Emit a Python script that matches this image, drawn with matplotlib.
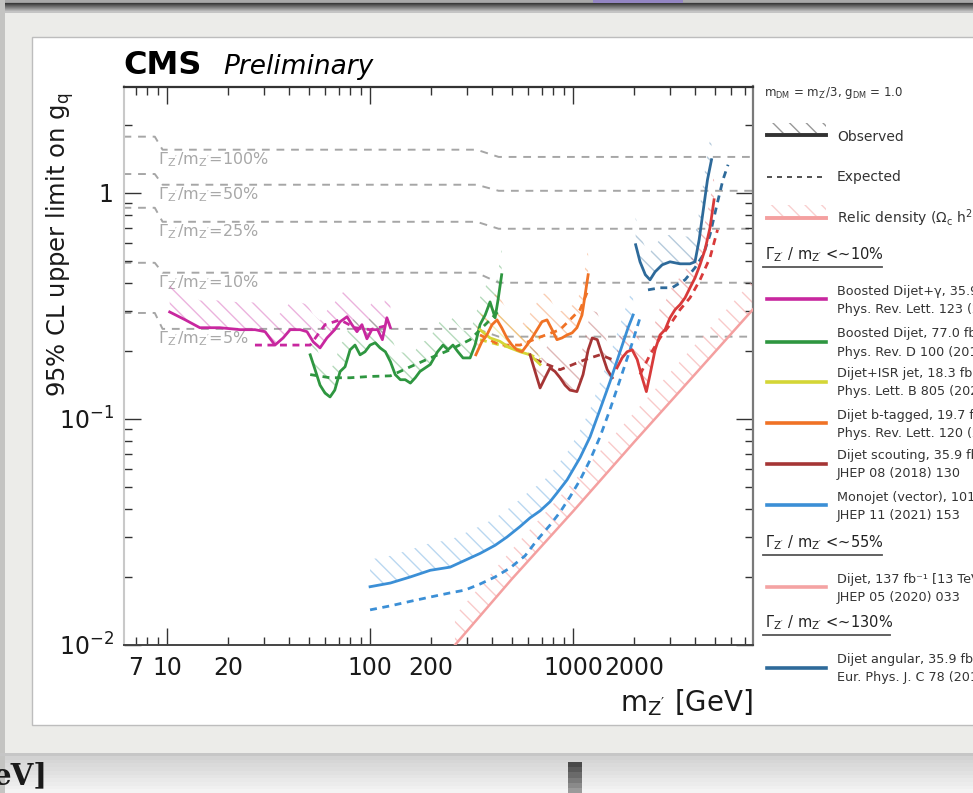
import numpy as np
import matplotlib
matplotlib.use("Agg")
import matplotlib.pyplot as plt
from matplotlib.patches import Rectangle
from matplotlib.lines import Line2D
from matplotlib.colors import to_rgba
from matplotlib.ticker import FixedLocator, FuncFormatter, LogLocator, NullFormatter

plt.rcParams["font.family"] = ["DejaVu Sans"]
plt.rcParams["mathtext.fontset"] = "dejavusans"
plt.rcParams["mathtext.default"] = "regular"
plt.rcParams["hatch.linewidth"] = 1.0

# ---------------- data: mediator mass [GeV] and coupling limits ----------------
# constant width / mass contours
width_mass = [6.1, 8.7, 9.5, 335, 430, 7700]
width_levels = ["100%", "50%", "25%", "10%", "5%"]
width_g = {
    "100%": [1.77, 1.77, 1.55, 1.55, 1.44, 1.44],
    "50%": [1.21, 1.21, 1.085, 1.085, 1.02, 1.02],
    "25%": [0.858, 0.858, 0.744, 0.744, 0.693, 0.693],
    "10%": [0.490, 0.490, 0.443, 0.443, 0.400, 0.400],
    "5%": [0.294, 0.294, 0.250, 0.250, 0.231, 0.231],
}

# Boosted dijet + photon
bdg_mass = [10.3, 12.3, 14.5, 18.2, 22.9, 27.1, 30.4, 34.0, 37.3, 40.4, 45.2, 48.9, 52.5, 56.7,
            61.3, 67.0, 71.2, 77.0, 81.4, 86.2, 91.2, 96.5, 102, 109, 115, 121, 126]
bdg_obs = [0.297, 0.274, 0.253, 0.253, 0.248, 0.248, 0.243, 0.212, 0.228, 0.248, 0.248, 0.243, 0.219,
           0.206, 0.228, 0.248, 0.269, 0.283, 0.261, 0.243, 0.261, 0.226, 0.248, 0.248, 0.224, 0.280, 0.253]
bdg_exp_mass = [27.1, 34.0, 45.2, 50.7, 60.0, 71.2, 84.3, 100, 126]
bdg_exp = [0.212, 0.212, 0.212, 0.212, 0.261, 0.274, 0.253, 0.248, 0.261]

# Boosted dijet
bd_mass = [50.7, 53.6, 56.7, 60.0, 63.5, 67.0, 71.2, 75.3, 79.7, 84.3, 89.3, 94.4, 100, 106, 112,
           119, 126, 133, 141, 149, 158, 167, 176, 198, 215, 229, 242, 256, 271, 287, 311, 329,
           348, 369, 390, 413, 427, 445]
bd_obs = [0.192, 0.165, 0.141, 0.130, 0.125, 0.134, 0.162, 0.170, 0.202, 0.212, 0.192, 0.198, 0.212,
          0.217, 0.206, 0.198, 0.179, 0.157, 0.149, 0.149, 0.144, 0.152, 0.162, 0.174, 0.198, 0.212,
          0.202, 0.212, 0.198, 0.186, 0.186, 0.212, 0.261, 0.288, 0.329, 0.280, 0.336, 0.434]
bd_exp_mass = [50.7, 63.5, 79.7, 100, 126, 158, 198, 248, 311, 390, 437]
bd_exp = [0.157, 0.152, 0.152, 0.154, 0.155, 0.170, 0.186, 0.202, 0.224, 0.274, 0.304]

# Dijet + ISR jet
isr_mass = [348, 390, 437, 489, 548, 614, 688]
isr_obs = [0.248, 0.228, 0.220, 0.206, 0.198, 0.192, 0.174]
isr_exp_mass = [348, 437, 548, 688]
isr_exp = [0.224, 0.212, 0.202, 0.183]

# Dijet b-tagged
btag_mass = [332, 355, 376, 399, 422, 445, 472, 500, 529, 560, 593, 628, 665, 703, 744, 788, 833,
             882, 934, 989, 1045, 1107, 1147, 1187]
btag_obs = [0.192, 0.219, 0.235, 0.261, 0.274, 0.253, 0.228, 0.212, 0.202, 0.198, 0.212, 0.228, 0.248,
            0.269, 0.274, 0.248, 0.224, 0.228, 0.235, 0.240, 0.253, 0.288, 0.354, 0.434]
btag_exp_mass = [348, 437, 548, 688, 863, 1083, 1187]
btag_exp = [0.235, 0.212, 0.212, 0.230, 0.248, 0.304, 0.372]

# Dijet scouting
scout_mass = [614, 650, 688, 728, 770, 815, 863, 913, 966, 1045, 1120, 1187, 1243, 1316, 1393, 1474, 1560]
scout_obs = [0.192, 0.162, 0.137, 0.152, 0.168, 0.162, 0.152, 0.141, 0.134, 0.132, 0.157, 0.202,
             0.228, 0.224, 0.192, 0.165, 0.152]
scout_exp_mass = [650, 863, 1150, 1358, 1560]
scout_exp = [0.183, 0.165, 0.183, 0.192, 0.183]

# Monojet (vector)
mono_mass = [100, 126, 158, 198, 248, 294, 348, 413, 472, 548, 614, 688, 770, 833, 934, 1083, 1213,
             1358, 1521, 1704, 1867, 1977]
mono_obs = [0.0181, 0.0188, 0.0200, 0.0214, 0.0221, 0.0237, 0.0254, 0.0276, 0.0300, 0.0334, 0.0365,
            0.0392, 0.0430, 0.0470, 0.0537, 0.0674, 0.0833, 0.110, 0.146, 0.198, 0.253, 0.288]
mono_exp_mass = [100, 126, 158, 198, 248, 294, 348, 413, 489, 580, 665, 770, 863, 966, 1083, 1213,
                 1358, 1521, 1704, 1909, 2138]
mono_exp = [0.0143, 0.0149, 0.0156, 0.0163, 0.0170, 0.0175, 0.0186, 0.0200, 0.0219, 0.0248, 0.0291,
            0.0339, 0.0387, 0.0452, 0.0537, 0.0658, 0.0833, 0.110, 0.149, 0.202, 0.280]

# Dijet 137 fb-1
dj_mass = [1646, 1744, 1846, 1955, 2070, 2190, 2297, 2394, 2536, 2682, 2840, 3004, 3180, 3365, 3562,
           3768, 3988, 4221, 4467, 4728, 4950]
dj_obs = [0.168, 0.186, 0.198, 0.202, 0.183, 0.152, 0.132, 0.157, 0.202, 0.235, 0.248, 0.280, 0.304,
          0.320, 0.343, 0.380, 0.420, 0.480, 0.560, 0.700, 0.931]
dj_exp_mass = [2138, 2394, 2682, 3004, 3365, 3768, 4221, 4728, 5150]
dj_exp = [0.157, 0.192, 0.228, 0.261, 0.304, 0.343, 0.412, 0.516, 0.686]

# Dijet angular
ang_mass = [2034, 2138, 2270, 2394, 2536, 2748, 3004, 3365, 3768, 3988, 4181, 4382, 4594, 4810]
ang_obs = [0.589, 0.495, 0.434, 0.412, 0.447, 0.480, 0.495, 0.485, 0.485, 0.495, 0.620, 0.841, 1.141, 1.40]
ang_exp_mass = [2340, 2682, 3073, 3562, 3988, 4382, 4728, 5115, 5476, 5801]
ang_exp = [0.372, 0.380, 0.380, 0.412, 0.466, 0.532, 0.652, 0.885, 1.141, 1.33]

# Relic density
relic_mass = [262, 500, 1000, 2000, 4000, 7700]
relic_g = [0.010, 0.0196, 0.039, 0.079, 0.158, 0.305]

# ---------------- styling ----------------
C_BDG = "#c8279f"
C_BD = "#2e9640"
C_ISR = "#d4d636"
C_BTAG = "#f07225"
C_SCOUT = "#a53535"
C_MONO = "#3b8fd6"
C_DJ = "#d83a3a"
C_DJ_LEG = "#f4a3a3"
C_ANG = "#2e6a9a"
C_RELIC = "#f4a0a0"
BAND = 1.32

W, H = 973, 793
fig = plt.figure(figsize=(W / 100, H / 100), dpi=100, facecolor="#ecece9")


def fx(px):
    return px / W


def fy(py):
    return 1 - py / H


def box(x0, y0, x1, y1, color, z=-5, **kw):
    fig.patches.append(Rectangle((fx(x0), fy(y1)), (x1 - x0) / W, (y1 - y0) / H,
                                 transform=fig.transFigure, facecolor=color,
                                 edgecolor=kw.pop("ec", "none"), zorder=z, **kw))


def vgrad(x0, x1, y0, y1, c0, c1, steps=12, z=-5):
    a = np.array(to_rgba(c0))
    b = np.array(to_rgba(c1))
    ys = np.linspace(y0, y1, steps + 1)
    for i in range(steps):
        t = i / max(steps - 1, 1)
        box(x0, ys[i], x1, ys[i + 1] + 0.5, tuple(a + (b - a) * t), z=z)


# window chrome around the page
vgrad(0, W, 0, 3, "#a8a8a8", "#9a9a9a", steps=2)
vgrad(0, W, 3, 12, "#3a3a3a", "#c4c4c4", steps=9)
box(593, 0, 683, 3, "#9385c2", z=-4)
box(0, 0, 5, H, "#c4c4c2", z=-4.5)
box(32, 37, W + 5, 725, "white", z=-3, ec="#bdbdbd", lw=1)
box(0, 753, W, 756, "#c6c6c6", z=-4)
vgrad(0, W, 756, H, "#d2d2d2", "#f4f4f4", steps=10)
vgrad(568, 582, 762, H, "#4a4a4a", "#9a9a9a", steps=6, z=-4)
fig.text(fx(-7), fy(776), "eV]", family="DejaVu Serif", fontsize=21, fontweight="bold",
         color="#1a1a1a", va="center", ha="left")

# ---------------- main axes ----------------
ax = fig.add_axes([fx(123.5), fy(645), (753 - 123.5) / W, (645 - 86.5) / H])
ax.set_facecolor("white")
ax.set_xscale("log")
ax.set_yscale("log")
ax.set_xlim(6.1, 7700)
ax.set_ylim(0.01, 2.95)

for lev in width_levels:
    ax.plot(width_mass, width_g[lev], color="#a6a6a6", lw=1.4, ls=(0, (4, 3.5)), zorder=1)

label_y = {"100%": 1.40, "50%": 0.98, "25%": 0.675, "10%": 0.40, "5%": 0.227}
for lev in width_levels:
    ax.text(9.0, label_y[lev], r"$\Gamma_{Z'}/m_{Z'}$=" + lev, color="#a8a8a8",
            fontsize=11.5, va="center", ha="left", zorder=1)


def limit(mass, obs, emass, exp, color, lw=2.0):
    m = np.asarray(mass)
    o = np.asarray(obs)
    ax.fill_between(m, o, o * BAND, facecolor="none", edgecolor=to_rgba(color, 0.35),
                    hatch="\\\\", linewidth=0, zorder=2)
    ax.plot(emass, exp, color=color, lw=lw, ls=(0, (2.5, 2)), zorder=3)
    ax.plot(m, o, color=color, lw=lw, zorder=4)


rm = np.asarray(relic_mass)
rg = np.asarray(relic_g)
ax.fill_between(rm, rg, rg * 1.35, facecolor="none", edgecolor=to_rgba(C_RELIC, 0.55),
                hatch="\\\\", linewidth=0, zorder=2)
ax.plot(rm, rg, color=C_RELIC, lw=1.8, zorder=3)

limit(bdg_mass, bdg_obs, bdg_exp_mass, bdg_exp, C_BDG)
limit(bd_mass, bd_obs, bd_exp_mass, bd_exp, C_BD)
limit(isr_mass, isr_obs, isr_exp_mass, isr_exp, C_ISR)
limit(btag_mass, btag_obs, btag_exp_mass, btag_exp, C_BTAG)
limit(scout_mass, scout_obs, scout_exp_mass, scout_exp, C_SCOUT)
limit(mono_mass, mono_obs, mono_exp_mass, mono_exp, C_MONO)
limit(dj_mass, dj_obs, dj_exp_mass, dj_exp, C_DJ)
limit(ang_mass, ang_obs, ang_exp_mass, ang_exp, C_ANG)

# axes decoration
ax.xaxis.set_major_locator(FixedLocator([10, 100, 1000]))
ax.xaxis.set_minor_locator(LogLocator(base=10, subs=np.arange(2, 10), numticks=20))
ax.xaxis.set_major_formatter(FuncFormatter(lambda v, p: f"{v:.0f}"))
xminor_labels = {7: "7", 20: "20", 200: "200", 2000: "2000"}
ax.xaxis.set_minor_formatter(FuncFormatter(lambda v, p: xminor_labels.get(int(round(v)), "")))
ax.yaxis.set_major_locator(FixedLocator([0.01, 0.1, 1]))
ax.yaxis.set_minor_locator(LogLocator(base=10, subs=np.arange(2, 10), numticks=20))
ylabels = {0.01: r"$10^{-2}$", 0.1: r"$10^{-1}$", 1.0: "1"}
ax.yaxis.set_major_formatter(FuncFormatter(lambda v, p: ylabels.get(round(v, 3), "")))
ax.yaxis.set_minor_formatter(NullFormatter())

ax.tick_params(which="both", direction="in", top=True, right=True, colors="#333",
               labelcolor="#1a1a1a", labelsize=17, width=1.0)
ax.tick_params(which="major", length=12)
ax.tick_params(which="minor", length=6)
ax.tick_params(axis="x", which="both", pad=8)
ax.tick_params(axis="y", which="both", pad=7)
ax.spines["left"].set_color("#c9c9c9")
ax.spines["left"].set_linewidth(1.5)
ax.spines["top"].set_color("#333333")
ax.spines["top"].set_linewidth(1.6)
ax.spines["bottom"].set_color("#444444")
ax.spines["bottom"].set_linewidth(1.4)
ax.spines["right"].set_color("#7a7a7a")
ax.spines["right"].set_linewidth(1.6)

fig.text(fx(60), fy(93), r"95% CL upper limit on $g_{q}$", rotation=90, fontsize=17.5,
         ha="center", va="top", color="#1a1a1a")
fig.text(fx(753), fy(703), r"$m_{Z'}$ [GeV]", fontsize=20, ha="right", va="center",
         color="#1a1a1a")
fig.text(fx(123), fy(66), "CMS", fontsize=23, fontweight="bold", ha="left", va="center")
fig.text(fx(223), fy(67), "Preliminary", fontsize=19, style="italic", ha="left", va="center")

# ---------------- legend (drawn beside the frame) ----------------
LX0, LX1, TX = 767, 826, 837


def leg_line(y, color, lw=2.6, ls="-"):
    fig.add_artist(Line2D([fx(LX0), fx(LX1)], [fy(y), fy(y)], transform=fig.transFigure,
                          color=color, lw=lw, ls=ls))


def leg_hatch(y0, y1, color):
    fig.patches.append(Rectangle((fx(LX0), fy(y1)), (LX1 - LX0) / W, (y1 - y0) / H,
                                 transform=fig.transFigure, facecolor="none",
                                 edgecolor=to_rgba(color, 0.5), hatch="\\\\", lw=0, zorder=3))


def leg_entry(y, color, line1, line2):
    leg_line(y, color)
    fig.text(fx(TX), fy(y - 8), line1, fontsize=9.2, va="center", ha="left", color="#333")
    fig.text(fx(TX), fy(y + 10), line2, fontsize=9.2, va="center", ha="left", color="#333")


def leg_header(y, text, x_end):
    fig.text(fx(765), fy(y), text, fontsize=10.5, va="center", ha="left", color="#222")
    fig.add_artist(Line2D([fx(763), fx(x_end)], [fy(y + 12), fy(y + 12)],
                          transform=fig.transFigure, color="#555", lw=1.3))


fig.text(fx(764), fy(93), r"$m_{DM}$ = $m_{Z'}$/3, $g_{DM}$ = 1.0", fontsize=8.5,
         va="center", ha="left", color="#333")
leg_hatch(123, 133, "#333333")
leg_line(135, "#333333", lw=2.8)
fig.text(fx(TX), fy(137), "Observed", fontsize=10, va="center", ha="left", color="#333")
leg_line(177, "#333333", lw=1.2, ls=(0, (3, 3)))
fig.text(fx(TX), fy(177), "Expected", fontsize=10, va="center", ha="left", color="#333")
leg_hatch(205, 216, C_RELIC)
leg_line(218, C_RELIC, lw=2.8)
fig.text(fx(TX), fy(218), r"Relic density ($\Omega_{c}$ h$^{2}$)", fontsize=10, va="center",
         ha="left", color="#333")

leg_header(255, r"$\Gamma_{Z'}$ / $m_{Z'}$ <~10%", 882)
leg_entry(299, C_BDG, "Boosted Dijet+γ, 35.9 fb⁻¹ [13 TeV]", "Phys. Rev. Lett. 123 (2019) 231803")
leg_entry(342, C_BD, "Boosted Dijet, 77.0 fb⁻¹ [13 TeV]", "Phys. Rev. D 100 (2019) 112007")
leg_entry(382, C_ISR, "Dijet+ISR jet, 18.3 fb⁻¹ [13 TeV]", "Phys. Lett. B 805 (2020) 135448")
leg_entry(423, C_BTAG, "Dijet b-tagged, 19.7 fb⁻¹ [8 TeV]", "Phys. Rev. Lett. 120 (2018) 201801")
leg_entry(464, C_SCOUT, "Dijet scouting, 35.9 fb⁻¹ [13 TeV]", "JHEP 08 (2018) 130")
leg_entry(505, C_MONO, "Monojet (vector), 101 fb⁻¹ [13 TeV]", "JHEP 11 (2021) 153")
leg_header(543, r"$\Gamma_{Z'}$ / $m_{Z'}$ <~55%", 882)
leg_entry(587, C_DJ_LEG, "Dijet, 137 fb⁻¹ [13 TeV]", "JHEP 05 (2020) 033")
leg_header(623, r"$\Gamma_{Z'}$ / $m_{Z'}$ <~130%", 890)
leg_entry(668, C_ANG, "Dijet angular, 35.9 fb⁻¹ [13 TeV]", "Eur. Phys. J. C 78 (2018) 789")

fig.savefig("out.png", dpi=100, facecolor=fig.get_facecolor())
